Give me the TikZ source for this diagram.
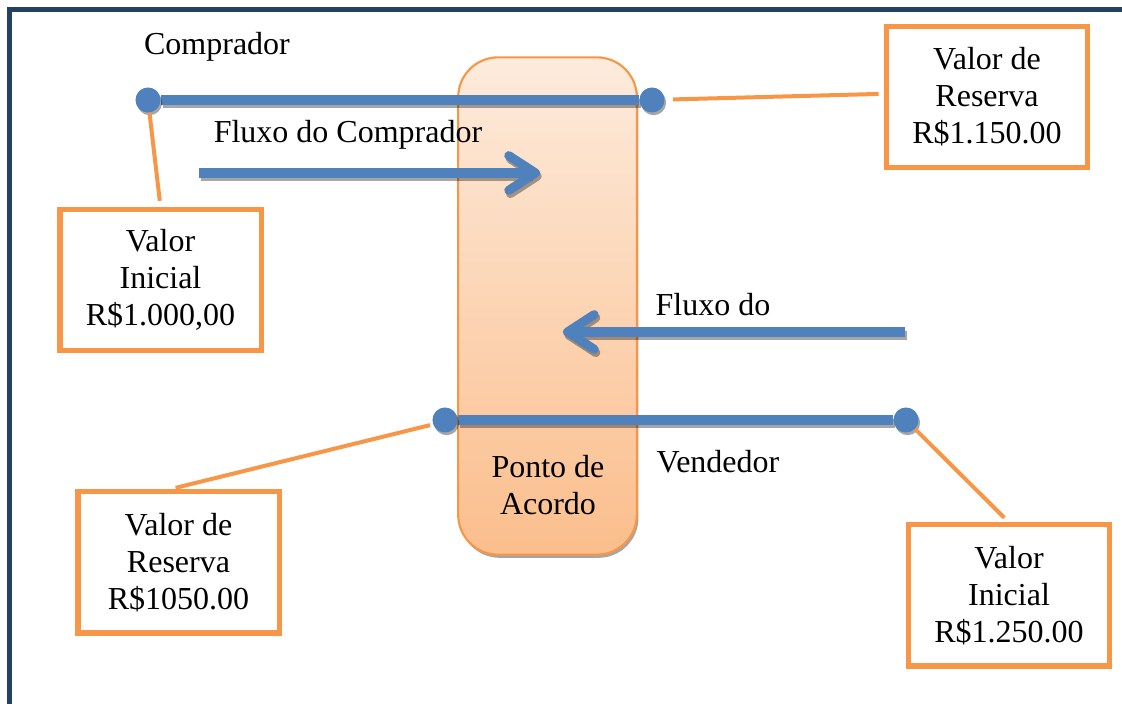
\documentclass[tikz,border=0pt]{standalone}
\usepackage{fontspec}
\setmainfont{Liberation Serif}
\newfontfamily\timesrm{Liberation Serif}
\usetikzlibrary{arrows.meta,shadows}
\definecolor{bluebar}{RGB}{79,129,189}
\definecolor{orangeline}{RGB}{247,150,70}
\definecolor{framecol}{RGB}{37,64,97}
\definecolor{acordotop}{RGB}{253,235,220}
\definecolor{acordobot}{RGB}{251,190,140}
\pgfdeclarelayer{back}
\pgfdeclarelayer{mid}
\pgfsetlayers{back,mid,main}

\begin{document}
\begin{tikzpicture}[x=0.375pt, y=-0.375pt,
    txt/.style={font=\timesrm\fontsize{12pt}{13.9pt}\selectfont, align=center, inner sep=0pt},
    valbox/.style={txt, draw=orangeline, line width=1.9pt, fill=white, minimum width=75.4pt, minimum height=52.9pt},
    dot/.style={circle, fill=bluebar, inner sep=0pt, minimum size=9.4pt, drop shadow={shadow xshift=0.6pt, shadow yshift=-1pt, fill=black, opacity=0.35}},
    bar/.style={draw=bluebar, line width=3.4pt, preaction={draw=black, draw opacity=0.35, line width=3.4pt, transform canvas={xshift=0.6pt, yshift=-1.2pt}}},
    flow/.style={bar, -{Straight Barb[length=10pt, width=13pt, line cap=round, line join=round]}},
    link/.style={draw=orangeline, line width=1.5pt},
  ]
        \useasboundingbox (0,0) rectangle (1122,704);
        \draw[draw=framecol, line width=2pt] (9.5,720) -- (9.5,9.5) -- (1140,9.5);

        % zona de acordo
        \begin{pgfonlayer}{back}
        \node[draw=orangeline, line width=0.8pt, rounded corners=15pt, top color=acordotop, bottom color=acordobot,
              minimum width=67pt, minimum height=186.5pt, drop shadow={shadow xshift=0.6pt, shadow yshift=-1.2pt, fill=black, opacity=0.35}] (pa) at (547.5,306) {};
        \end{pgfonlayer}
        \node[txt] (pat) at (548,485) {Ponto de\\Acordo};

        % textos
        \node[txt] (comp) at (217,47) {Comprador};
        \node[txt] (fcl) at (348,135) {Fluxo do Comprador};
        \node[txt] (fvl) at (713,305) {Fluxo do};
        \node[txt] (vend) at (718,462) {Vendedor};

        % caixas de valores
        \node[valbox] (vr1) at (987,97) {Valor de\\Reserva\\R\$1.150.00};
        \node[valbox] (vi1) at (160.5,280) {Valor\\Inicial\\R\$1.000,00};
        \node[valbox] (vr2) at (178.5,562.5) {Valor de\\Reserva\\R\$1050.00};
        \node[valbox] (vi2) at (1009,595.5) {Valor\\Inicial\\R\$1.250.00};

        % pontos
        \node[dot] (cd1) at (148,100) {};
        \node[dot] (cd2) at (652,100) {};
        \node[dot] (vd1) at (445,420) {};
        \node[dot] (vd2) at (906,420) {};

        \coordinate (fc1) at (199,173);
        \coordinate (fc2) at (540,173);
        \coordinate (fv1) at (905,332);
        \coordinate (fv2) at (563,332);

        \begin{pgfonlayer}{mid}
        \draw[bar] (cd1) -- (cd2);
        \draw[bar] (vd1) -- (vd2);
        \draw[flow] (fc1) -- (fc2);
        \draw[flow] (fv1) -- (fv2);
        \end{pgfonlayer}

        \draw[link, shorten >=2.3pt] (cd1) -- (vi1.north);
        \draw[link, shorten <=3pt, shorten >=2pt] (cd2) -- ([yshift=1.2pt]vr1.west);
        \draw[link, shorten <=1pt, shorten >=2.5pt] (vd1.200) -- ([xshift=-3.5pt]vr2.north);
        \draw[link, shorten >=2.5pt] (vd2) -- (vi2.north);
    \end{tikzpicture}
\end{document}
